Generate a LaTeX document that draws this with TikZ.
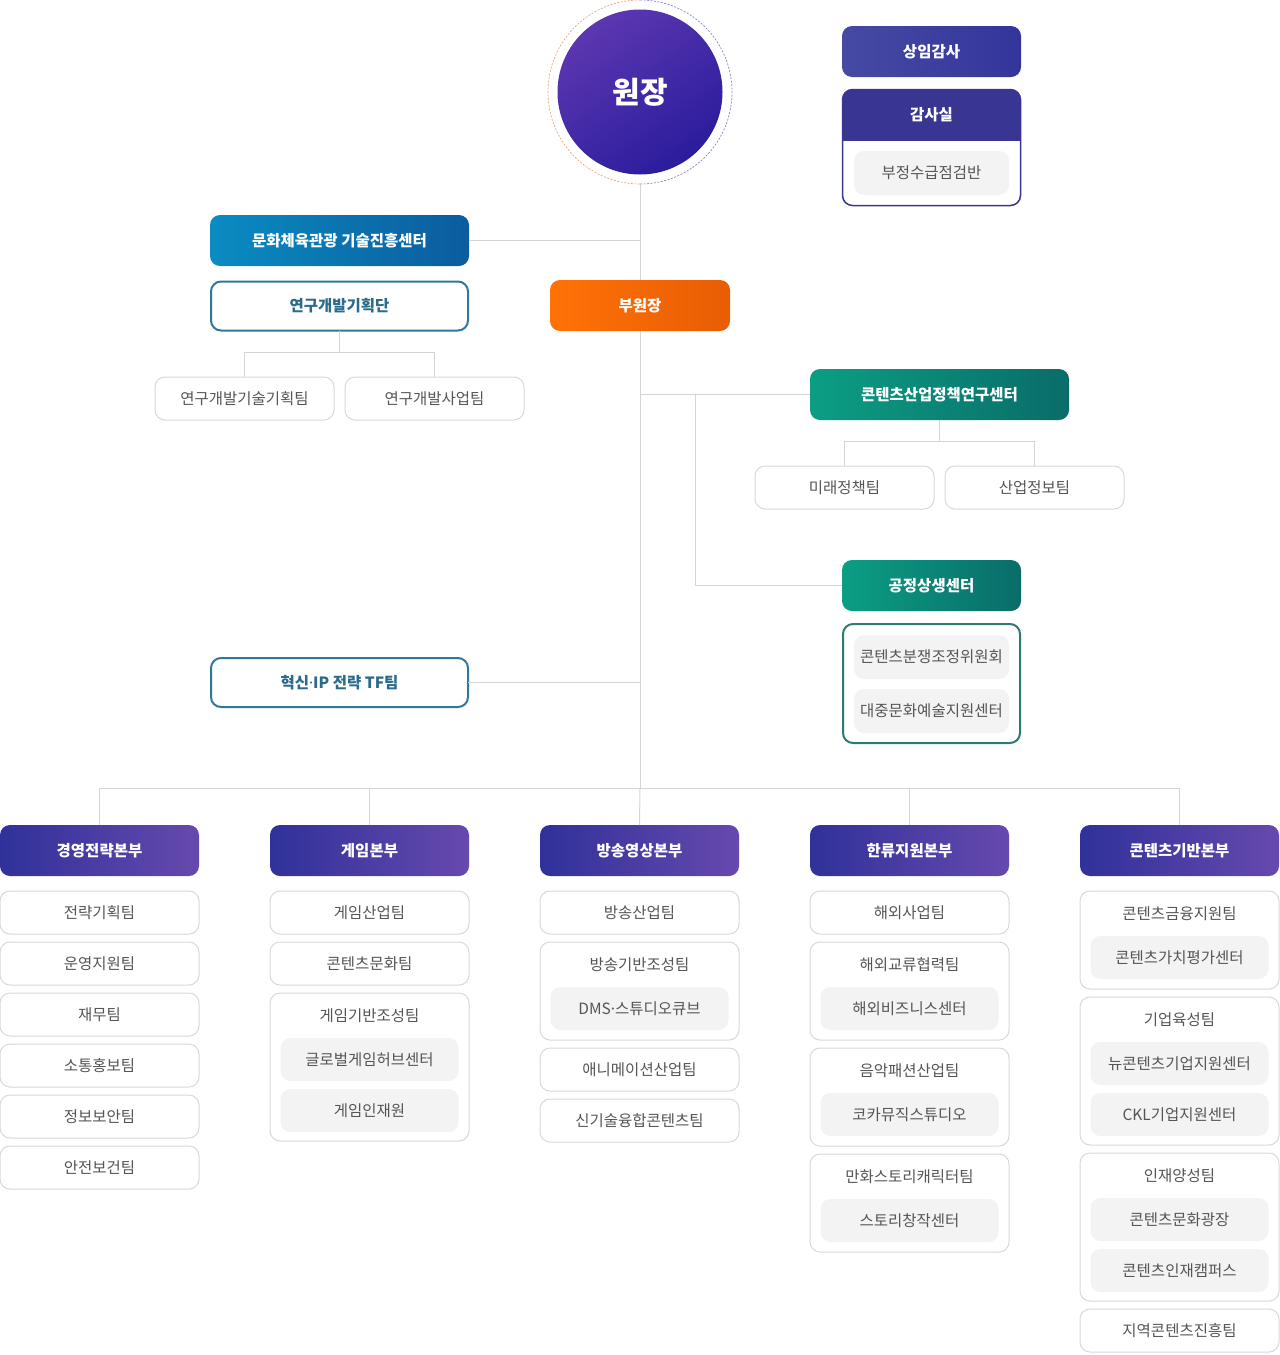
\documentclass[tikz,border=0pt]{standalone}
\usepackage{fontspec}
\setmainfont{Noto Sans CJK KR}
\newfontfamily\dotfont{Noto Sans}
\usetikzlibrary{positioning}

\definecolor{linegray}{HTML}{D5D5D5}
\definecolor{boxgray}{HTML}{D8D8D8}
\definecolor{subgray}{HTML}{F3F3F3}
\definecolor{txtgray}{HTML}{555555}
\definecolor{hdleft}{HTML}{30319A}
\definecolor{hdright}{HTML}{6649AE}
\definecolor{navy}{HTML}{393592}
\definecolor{auditL}{HTML}{464AA3}
\definecolor{auditR}{HTML}{34359B}
\definecolor{blueL}{HTML}{0A8CC2}
\definecolor{blueR}{HTML}{0B5C9E}
\definecolor{greenL}{HTML}{0B9E84}
\definecolor{greenR}{HTML}{0A6C68}
\definecolor{orangeL}{HTML}{FF7206}
\definecolor{orangeR}{HTML}{E85D05}
\definecolor{tealline}{HTML}{2B7A9B}
\definecolor{tealtext}{HTML}{2A6A8A}
\definecolor{greenline}{HTML}{2C7A72}
\definecolor{chiefT}{HTML}{5C37B1}
\definecolor{chiefB}{HTML}{2A1C9C}
\definecolor{ringL}{HTML}{E3A57E}
\definecolor{ringR}{HTML}{8C7DC6}

\newcommand{\mdot}{{\dotfont ·}}

\begin{document}
\begin{tikzpicture}[
x=1pt, y=-1pt,
node distance=8pt,
every node/.style={outer sep=0pt},
conn/.style={draw=linegray, line width=1pt},
hqbox/.style={rounded corners=10pt, minimum width=199pt, minimum height=51pt, inner sep=0pt, text=white, font=\bfseries\fontsize{15.5}{18}\selectfont, left color=hdleft, right color=hdright},
team/.style={draw=boxgray, fill=white, line width=1pt, rounded corners=10pt, minimum width=199pt, minimum height=43pt, inner sep=0pt, text=txtgray, font=\fontsize{15.5}{18}\selectfont},
subbox/.style={fill=subgray, rounded corners=10pt, minimum width=178pt, minimum height=43pt, inner sep=0pt, text=txtgray, font=\fontsize{15.5}{18}\selectfont},
grptitle/.style={text=txtgray, font=\fontsize{15.5}{18}\selectfont, inner sep=0pt},
linebox/.style={draw=tealline, fill=white, line width=2pt, rounded corners=10pt, minimum width=257pt, minimum height=49pt, text=tealtext, font=\bfseries\fontsize{15.5}{18}\selectfont},
whitebold/.style={text=white, font=\bfseries\fontsize{15.5}{18}\selectfont, inner sep=0pt}
]
\useasboundingbox (0,0) rectangle (1280,1355);

% top
\node[circle, minimum size=165pt, inner sep=0pt, top color=chiefT, bottom color=chiefB, shading angle=35, text=white, font=\bfseries\fontsize{30}{34}\selectfont] (won) at (640,92) {원장};
\draw[ringL, line width=0.7pt, dash pattern=on 2pt off 1.5pt] ([yshift=92pt]won.center) arc[start angle=90, end angle=270, radius=92pt];
\draw[ringR, line width=0.7pt, dash pattern=on 2pt off 1.5pt] ([yshift=-92pt]won.center) arc[start angle=-90, end angle=90, radius=92pt];

\node[hqbox, minimum width=179pt, left color=auditL, right color=auditR] (sangim) at (931.5,51.5) {상임감사};
\node[draw=navy, fill=white, line width=1.5pt, rounded corners=10pt, minimum width=178pt, minimum height=116pt, inner sep=0pt] (gamsa) at (931.5,147.5) {};
\fill[navy, rounded corners=10pt] (gamsa.north west) rectangle ([yshift=-51pt]gamsa.north east);
\fill[navy] ([yshift=-30pt]gamsa.north west) rectangle ([yshift=-51pt]gamsa.north east);
\node[whitebold] (gamsat) at ([yshift=-25.5pt]gamsa.north) {감사실};
\node[subbox, minimum width=155pt, minimum height=44pt] (fraud) at (931.5,173) {부정수급점검반};

% left branch
\node[hqbox, minimum width=259pt, left color=blueL, right color=blueR] (mcst) at (339.5,240.5) {문화체육관광 기술진흥센터};
\node[linebox] (rndp) at (339.5,306) {연구개발기획단};
\node[team, minimum width=179pt] (rndt1) at (244.5,398.5) {연구개발기술기획팀};
\node[team, minimum width=179pt] (rndt2) at (434.5,398.5) {연구개발사업팀};
\coordinate (rndfork) at (339.5,352);
\draw[conn] (rndp.south) -- (rndfork);
\draw[conn] (rndfork) -| (rndt1.north);
\draw[conn] (rndfork) -| (rndt2.north);

\node[linebox] (tf) at (339.5,682.5) {혁신\mdot IP 전략 TF팀};

% spine
\node[hqbox, minimum width=180pt, left color=orangeL, right color=orangeR] (buwon) at (640,305.5) {부원장};
\coordinate (bus) at (640,788);
\draw[conn] ([yshift=-92pt]won.center) -- (buwon.north);
\draw[conn] (buwon.south) -- (bus);
\draw[conn] (mcst.east) -- (mcst.east -| bus);
\draw[conn] (tf.east) -- (tf.east -| bus);

% right branch
\node[hqbox, minimum width=259pt, left color=greenL, right color=greenR] (policy) at (939.5,394.5) {콘텐츠산업정책연구센터};
\node[team, minimum width=179pt] (future) at (844.5,487.5) {미래정책팀};
\node[team, minimum width=179pt] (indinfo) at (1034.5,487.5) {산업정보팀};
\coordinate (polfork) at (939.5,441);
\draw[conn] (policy.west) -- (policy.west -| bus);
\draw[conn] (policy.south) -- (polfork);
\draw[conn] (polfork) -| (future.north);
\draw[conn] (polfork) -| (indinfo.north);

\node[hqbox, minimum width=179pt, left color=greenL, right color=greenR] (fair) at (931.5,585.5) {공정상생센터};
\node[draw=greenline, fill=white, line width=2pt, rounded corners=10pt, minimum width=177pt, minimum height=119pt, inner sep=0pt] (fairbox) at (931.5,683.5) {};
\node[subbox, minimum width=155pt, minimum height=44pt] (dispute) at (931.5,657) {콘텐츠분쟁조정위원회};
\node[subbox, minimum width=155pt, minimum height=44pt] (popart) at (931.5,711) {대중문화예술지원센터};
\coordinate (fairbend) at (695,394.5);
\draw[conn] (fair.west) -| (fairbend);

% divisions
\node[hqbox] (h1) at (99.5,850.5) {경영전략본부};
\node[hqbox] (h2) at (369.5,850.5) {게임본부};
\node[hqbox] (h3) at (639.5,850.5) {방송영상본부};
\node[hqbox] (h4) at (909.5,850.5) {한류지원본부};
\node[hqbox] (h5) at (1179.5,850.5) {콘텐츠기반본부};
\draw[conn] (h1.north) -- (h1.north |- bus) -- (h5.north |- bus) -- (h5.north);
\draw[conn] (h2.north) -- (h2.north |- bus);
\draw[conn] (h3.north) -- (bus);
\draw[conn] (h4.north) -- (h4.north |- bus);

% column 1
\node[team, anchor=north] (c1a) at (99.5,891) {전략기획팀};
\node[team, below=of c1a] (c1b) {운영지원팀};
\node[team, below=of c1b] (c1c) {재무팀};
\node[team, below=of c1c] (c1d) {소통홍보팀};
\node[team, below=of c1d] (c1e) {정보보안팀};
\node[team, below=of c1e] (c1f) {안전보건팀};

% column 2
\node[team, anchor=north] (c2a) at (369.5,891) {게임산업팀};
\node[team, below=of c2a] (c2b) {콘텐츠문화팀};
\node[team, below=of c2b, minimum height=148pt] (c2g) {};
\node[grptitle] at ([yshift=-23pt]c2g.north) {게임기반조성팀};
\node[subbox, anchor=north] (c2s1) at ([yshift=-45pt]c2g.north) {글로벌게임허브센터};
\node[subbox, below=of c2s1] (c2s2) {게임인재원};

% column 3
\node[team, anchor=north] (c3a) at (639.5,891) {방송산업팀};
\node[team, below=of c3a, minimum height=98pt] (c3g) {};
\node[grptitle] at ([yshift=-23pt]c3g.north) {방송기반조성팀};
\node[subbox, anchor=north] (c3s1) at ([yshift=-45pt]c3g.north) {DMS\mdot 스튜디오큐브};
\node[team, below=of c3g] (c3c) {애니메이션산업팀};
\node[team, below=of c3c] (c3d) {신기술융합콘텐츠팀};

% column 4
\node[team, anchor=north] (c4a) at (909.5,891) {해외사업팀};
\node[team, below=of c4a, minimum height=98pt] (c4g1) {};
\node[grptitle] at ([yshift=-23pt]c4g1.north) {해외교류협력팀};
\node[subbox, anchor=north] (c4s1) at ([yshift=-45pt]c4g1.north) {해외비즈니스센터};
\node[team, below=of c4g1, minimum height=98pt] (c4g2) {};
\node[grptitle] at ([yshift=-23pt]c4g2.north) {음악패션산업팀};
\node[subbox, anchor=north] (c4s2) at ([yshift=-45pt]c4g2.north) {코카뮤직스튜디오};
\node[team, below=of c4g2, minimum height=98pt] (c4g3) {};
\node[grptitle] at ([yshift=-23pt]c4g3.north) {만화스토리캐릭터팀};
\node[subbox, anchor=north] (c4s3) at ([yshift=-45pt]c4g3.north) {스토리창작센터};

% column 5
\node[team, anchor=north, minimum height=98pt] (c5g1) at (1179.5,891) {};
\node[grptitle] at ([yshift=-23pt]c5g1.north) {콘텐츠금융지원팀};
\node[subbox, anchor=north] (c5s1) at ([yshift=-45pt]c5g1.north) {콘텐츠가치평가센터};
\node[team, below=of c5g1, minimum height=148pt] (c5g2) {};
\node[grptitle] at ([yshift=-23pt]c5g2.north) {기업육성팀};
\node[subbox, anchor=north] (c5s2) at ([yshift=-45pt]c5g2.north) {뉴콘텐츠기업지원센터};
\node[subbox, below=of c5s2] (c5s3) {CKL기업지원센터};
\node[team, below=of c5g2, minimum height=148pt] (c5g3) {};
\node[grptitle] at ([yshift=-23pt]c5g3.north) {인재양성팀};
\node[subbox, anchor=north] (c5s4) at ([yshift=-45pt]c5g3.north) {콘텐츠문화광장};
\node[subbox, below=of c5s4] (c5s5) {콘텐츠인재캠퍼스};
\node[team, below=of c5g3] (c5d) {지역콘텐츠진흥팀};

\end{tikzpicture}
\end{document}
